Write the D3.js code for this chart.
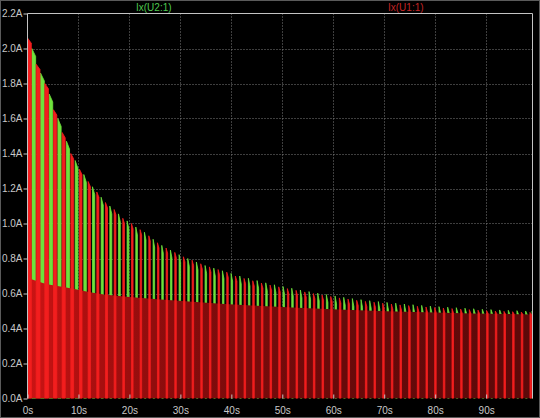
<!DOCTYPE html>
<html><head><meta charset="utf-8">
<script src="https://cdn.jsdelivr.net/npm/d3@7/dist/d3.min.js"></script>
<style>body{margin:0;background:#000}svg{display:block}</style>
</head><body>
<svg id="chart" width="540" height="418"></svg>
<script>
// ---- data ----
const xTicks = [0,10,20,30,40,50,60,70,80,90];
const yTicks = [0,0.2,0.4,0.6,0.8,1.0,1.2,1.4,1.6,1.8,2.0,2.2];
const seriesNames = ["Ix(U2:1)","Ix(U1:1)"];

// U1 (red) pulse instants and peak currents
const redTimes = [0,1.7,3.4,5.1,6.8,8.5,10.2,11.9,13.6,15.3,17.0,18.7,20.4,22.1,23.8,25.5,27.2,28.9,30.6,32.3,34.0,35.7,37.4,39.1,40.8,42.5,44.2,45.9,47.6,49.3,51.0,52.7,54.4,56.1,57.8,59.5,61.2,62.9,64.6,66.3,68.0,69.7,71.4,73.1,74.8,76.5,78.2,79.9,81.6,83.3,85.0,86.7,88.4,90.1,91.8,93.5,95.2,96.9,98.6];
const redPeaks = [2.06,1.91,1.80,1.65,1.52,1.40,1.31,1.24,1.18,1.12,1.08,1.03,1.00,0.965,0.93,0.89,0.86,0.835,0.81,0.79,0.77,0.752,0.737,0.722,0.70,0.686,0.673,0.66,0.648,0.638,0.628,0.618,0.609,0.60,0.591,0.583,0.575,0.568,0.561,0.555,0.55,0.545,0.54,0.535,0.531,0.527,0.523,0.52,0.517,0.514,0.511,0.508,0.505,0.502,0.50,0.498,0.496,0.494,0.492];

// U2 (green) pulse instants and peak currents
const greenTimes = [0.85,2.55,4.25,5.95,7.65,9.35,11.05,12.75,14.45,16.15,17.85,19.55,21.25,22.95,24.65,26.35,28.05,29.75,31.45,33.15,34.85,36.55,38.25,39.95,41.65,43.35,45.05,46.75,48.45,50.15,51.85,53.55,55.25,56.95,58.65,60.35,62.05,63.75,65.45,67.15,68.85,70.55,72.25,73.95,75.65,77.35,79.05,80.75,82.45,84.15,85.85,87.55,89.25,90.95,92.65,94.35,96.05,97.75,99.0];
const greenPeaks = [2.00,1.86,1.74,1.60,1.47,1.36,1.28,1.21,1.15,1.10,1.055,1.015,0.98,0.95,0.91,0.875,0.848,0.822,0.80,0.78,0.76,0.745,0.73,0.715,0.70,0.687,0.674,0.661,0.65,0.64,0.63,0.62,0.611,0.602,0.594,0.586,0.578,0.571,0.565,0.559,0.554,0.549,0.545,0.54,0.536,0.532,0.528,0.525,0.522,0.519,0.516,0.513,0.51,0.508,0.506,0.504,0.502,0.50,0.498];

// on-time of each pulse (s)
const pulseWidths = [0.75,0.75,0.7,0.65,0.6,0.55,0.5,0.45,0.42,0.4,0.36,0.34,0.32,0.3,0.3,0.3,0.3,0.3,0.3,0.3,0.3,0.3,0.3,0.3,0.3,0.3,0.3,0.3,0.3,0.3,0.3,0.3,0.3,0.3,0.3,0.3,0.3,0.3,0.3,0.3,0.3,0.3,0.3,0.3,0.3,0.3,0.3,0.3,0.3,0.3,0.3,0.3,0.3,0.3,0.3,0.3,0.3,0.3,0.3];

// U1 (red) plateau level between pulses
const baseTimes  = [0,3,7.6,15,20,31,45,61,80,99.1];
const baseLevels = [0.69,0.66,0.634,0.594,0.58,0.556,0.53,0.509,0.492,0.48];

// ---- drawing ----
const svg = d3.select("#chart");
const W = 540, H = 418;
const x = d3.scaleLinear().domain([0, 99.1]).range([27.5, 532.5]);
const y = d3.scaleLinear().domain([0, 2.2]).range([398.5, 13.5]);
const baseAt = d3.scaleLinear().domain(baseTimes).range(baseLevels).clamp(true);

const GREEN = "#6ee23c", RED = "#f21e1e";

svg.append("rect").attr("x",0.5).attr("y",0.5).attr("width",W-1).attr("height",H-1)
  .attr("fill","#000").attr("stroke","#5a5a5a");

// grid
const grid = svg.append("g").attr("stroke","#7c7c7c").attr("stroke-dasharray","1,2").attr("stroke-width",1);
grid.selectAll(".vx").data(xTicks.filter(d=>d>0)).join("line")
  .attr("x1",d=>Math.round(x(d))+0.5).attr("x2",d=>Math.round(x(d))+0.5)
  .attr("y1",y(2.2)).attr("y2",y(0));
grid.selectAll(".hy").data(yTicks.filter(d=>d>0 && d<2.2)).join("line")
  .attr("y1",d=>Math.round(y(d))+0.5).attr("y2",d=>Math.round(y(d))+0.5)
  .attr("x1",x(0)).attr("x2",x(99.1));

const defs = svg.append("defs");
defs.append("clipPath").attr("id","pc")
  .append("rect").attr("x",x(0)).attr("y",y(2.2)).attr("width",x(99.1)-x(0)).attr("height",y(0)-y(2.2));

const grad = defs.append("linearGradient").attr("id","rg")
  .attr("x1","0").attr("x2","1").attr("y1","0").attr("y2","0");
[[0,"#cc1414"],[0.1,"#b01010"],[0.3,"#860c0c"],[0.6,"#6a0a0a"],[1,"#5c0909"]].forEach(s=>
  grad.append("stop").attr("offset",s[0]).attr("stop-color",s[1]));

const plot = svg.append("g").attr("clip-path","url(#pc)");

function pulsePath(t, p, w, drop) {
  const b = baseAt(t);
  const end = Math.max(b, p - drop);
  return `M${x(t)},${y(0)}V${y(p)}L${x(t+w)},${y(end)}V${y(0)}Z`;
}

// green pulses (U2)
plot.append("g").selectAll("path").data(greenTimes).join("path")
  .attr("d",(t,i)=>pulsePath(t, greenPeaks[i], pulseWidths[i], 0.045))
  .attr("fill",GREEN).attr("stroke",GREEN).attr("stroke-width",0.8);

// red plateau region (U1)
const area = d3.area().x(d=>x(d[0])).y0(y(0)).y1(d=>y(d[1])).curve(d3.curveMonotoneX);
plot.append("path").datum(baseTimes.map((t,i)=>[t, baseLevels[i]]))
  .attr("d",area).attr("fill","url(#rg)");

// red pulses (U1)
plot.append("g").selectAll("path").data(redTimes).join("path")
  .attr("d",(t,i)=>pulsePath(t, redPeaks[i], pulseWidths[i], 0.03))
  .attr("fill",RED).attr("stroke",RED).attr("stroke-width",0.8);

// frame
svg.append("path")
  .attr("d",`M${x(0)},${y(0)}V${y(2.2)}H${x(99.1)}V${y(0)}`)
  .attr("fill","none").attr("stroke","#c4c4c4").attr("stroke-width",1);

// axes
const fontFam = "'Liberation Sans', Arial, sans-serif";
const yAxis = d3.axisLeft(y).tickValues(yTicks).tickFormat(d=>d.toFixed(1)+"A")
  .tickSizeInner(4).tickSizeOuter(0).tickPadding(1);
const gy = svg.append("g").attr("transform",`translate(${x(0)},0)`).call(yAxis);
const xAxis = d3.axisBottom(x).tickValues(xTicks).tickFormat(d=>d+"s")
  .tickSizeInner(-4).tickSizeOuter(0).tickPadding(8);
const gx = svg.append("g").attr("transform",`translate(0,${y(0)})`).call(xAxis);
[gx,gy].forEach(g=>{
  g.select(".domain").remove();
  g.selectAll(".tick line").attr("stroke","#c4c4c4");
  g.selectAll(".tick text").attr("fill","#c8c8c8").style("font-family",fontFam).style("font-size","10px");
});

// legend
svg.append("text").attr("x",136).attr("y",10.5).text(seriesNames[0])
  .attr("fill","#4fc84f").style("font-family",fontFam).style("font-size","10px");
svg.append("text").attr("x",388).attr("y",10.5).text(seriesNames[1])
  .attr("fill","#c42424").style("font-family",fontFam).style("font-size","10px");
</script>
</body></html>
